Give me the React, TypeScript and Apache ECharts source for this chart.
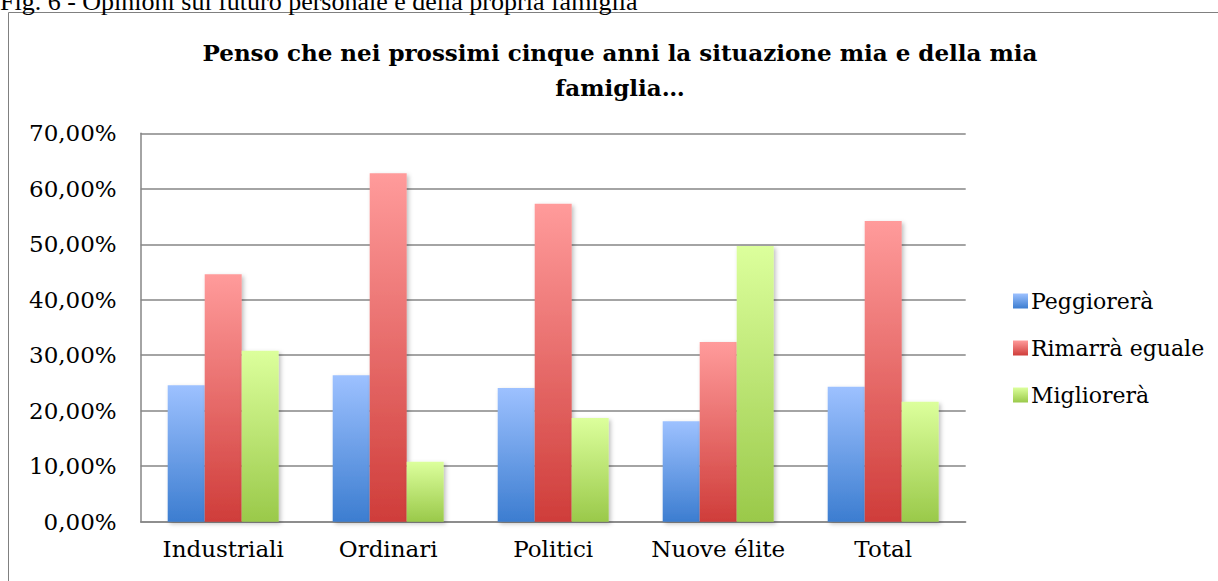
import React, { useEffect, useRef } from "react";
import * as echarts from "echarts";

const categories = ["Industriali", "Ordinari", "Politici", "Nuove élite", "Total"];
const seriesNames = ["Peggiorerà", "Rimarrà eguale", "Migliorerà"];
const peggiorera = [24.6, 26.4, 24.1, 18.1, 24.3];
const rimarra = [44.6, 62.8, 57.3, 32.4, 54.2];
const migliorera = [30.8, 10.8, 18.7, 49.7, 21.6];
const yTicks = [0, 10, 20, 30, 40, 50, 60, 70];

const captionText = "Fig. 6 - Opinioni sul futuro personale e della propria famiglia";
const titleText = "Penso che nei prossimi cinque anni la situazione mia e della mia\nfamiglia…";

const gradients = [
  ["#9dc1ff", "#3c7dd0"],
  ["#ff9b9b", "#cf3d3a"],
  ["#dcff9c", "#9ac94a"],
];

const SERIF = '"DejaVu Serif", serif';

export default function App() {
  const ref = useRef<HTMLDivElement>(null);
  useEffect(() => {
    if (!ref.current) return;
    const chart = echarts.init(ref.current, null, { renderer: "svg" });
    const values = [peggiorera, rimarra, migliorera];
    chart.setOption({
      animation: false,
      backgroundColor: "#ffffff",
      title: {
        text: titleText,
        left: 615,
        textAlign: "center",
        top: 30,
        textStyle: {
          fontFamily: SERIF,
          fontWeight: "bold",
          fontSize: 23,
          lineHeight: 35,
          color: "#000",
        },
      },
      graphic: [
        {
          type: "rect",
          shape: { x: 8.5, y: 12.5, width: 1230, height: 600 },
          style: { fill: "none", stroke: "#808080", lineWidth: 1 },
          silent: true,
        },
        {
          type: "text",
          x: 0,
          y: 14,
          style: {
            text: captionText,
            font: '26px "Liberation Serif", serif',
            fill: "#000",
            verticalAlign: "bottom",
          },
          silent: true,
        },
      ],
      legend: {
        orient: "vertical",
        left: 1008,
        top: 285,
        itemWidth: 15,
        itemHeight: 15,
        itemGap: 25,
        icon: "rect",
        data: seriesNames,
        textStyle: { fontFamily: SERIF, fontSize: 22, color: "#000", padding: [0, 0, 0, -2] },
      },
      grid: { left: 140.7, right: 252.3, top: 133.3, bottom: 59.3, containLabel: false },
      xAxis: {
        type: "category",
        data: categories,
        axisLine: { show: true, lineStyle: { color: "#868686", width: 1.5 } },
        axisTick: { show: false },
        axisLabel: { interval: 0, fontFamily: SERIF, fontSize: 23, color: "#000", margin: 16 },
      },
      yAxis: {
        type: "value",
        min: 0,
        max: 70,
        interval: 10,
        axisLine: { show: true, lineStyle: { color: "#868686", width: 1.5 } },
        axisTick: { show: false },
        splitLine: { show: true, lineStyle: { color: "#868686", width: 1.5 } },
        axisLabel: {
          fontFamily: SERIF,
          fontSize: 23,
          color: "#000",
          margin: 24,
          formatter: (v: number) =>
            yTicks.includes(v) ? v.toFixed(2).replace(".", ",") + "%" : "",
        },
      },
      series: seriesNames.map((name, i) => ({
        name,
        type: "bar",
        data: values[i],
        barWidth: 37,
        barGap: "0%",
        itemStyle: {
          color: new echarts.graphic.LinearGradient(0, 0, 0, 1, [
            { offset: 0, color: gradients[i][0] },
            { offset: 1, color: gradients[i][1] },
          ]),
          shadowBlur: 4,
          shadowOffsetX: 2,
          shadowOffsetY: 2,
          shadowColor: "rgba(0,0,0,0.25)",
        },
      })),
    });
    return () => chart.dispose();
  }, []);
  return (
    <div
      ref={ref}
      style={{ position: "absolute", left: 0, top: 0, width: 1218, height: 581 }}
    />
  );
}
